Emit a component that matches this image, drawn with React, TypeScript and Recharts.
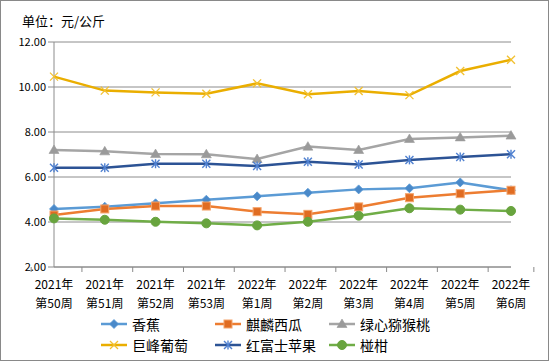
import React from "react";
import { LineChart, Line, XAxis, YAxis, CartesianGrid, Legend } from "recharts";

const categories = [
  "2021年\n第50周", "2021年\n第51周", "2021年\n第52周", "2021年\n第53周", "2022年\n第1周",
  "2022年\n第2周", "2022年\n第3周", "2022年\n第4周", "2022年\n第5周", "2022年\n第6周",
];
const banana = [4.58, 4.68, 4.83, 4.99, 5.14, 5.30, 5.45, 5.50, 5.76, 5.41];
const watermelon = [4.31, 4.58, 4.71, 4.71, 4.46, 4.34, 4.67, 5.08, 5.26, 5.41];
const kiwi = [7.2, 7.14, 7.02, 7.01, 6.8, 7.35, 7.2, 7.69, 7.76, 7.84];
const grape = [10.46, 9.84, 9.76, 9.7, 10.16, 9.68, 9.82, 9.64, 10.71, 11.21];
const apple = [6.41, 6.41, 6.59, 6.59, 6.49, 6.68, 6.56, 6.76, 6.89, 7.01];
const citrus = [4.16, 4.1, 4.01, 3.94, 3.85, 4.01, 4.28, 4.61, 4.55, 4.49];
const yTicks = [2, 4, 6, 8, 10, 12];
const unitLabel = "单位：元/公斤";

const data = categories.map((c, i) => ({
  name: c,
  banana: banana[i],
  watermelon: watermelon[i],
  kiwi: kiwi[i],
  grape: grape[i],
  apple: apple[i],
  citrus: citrus[i],
}));

type Shape = "diamond" | "square" | "triangle" | "x" | "star" | "circle";

const series: { key: string; name: string; color: string; marker: string; shape: Shape }[] = [
  { key: "banana", name: "香蕉", color: "#5B9BD5", marker: "#4A89C9", shape: "diamond" },
  { key: "watermelon", name: "麒麟西瓜", color: "#ED7D31", marker: "#E06C22", shape: "square" },
  { key: "kiwi", name: "绿心猕猴桃", color: "#A5A5A5", marker: "#9A9A9A", shape: "triangle" },
  { key: "grape", name: "巨峰葡萄", color: "#EAAE00", marker: "#F2C030", shape: "x" },
  { key: "apple", name: "红富士苹果", color: "#2C5395", marker: "#4F80D0", shape: "star" },
  { key: "citrus", name: "椪柑", color: "#70AD47", marker: "#68A43E", shape: "circle" },
];

const FONT = "'Noto Sans CJK SC', 'DejaVu Sans', sans-serif";

function MarkerShape({ shape, cx, cy, color, line }: { shape: Shape; cx: number; cy: number; color: string; line: string }) {
  switch (shape) {
    case "diamond":
      return <polygon points={`${cx},${cy - 4.5} ${cx + 4.5},${cy} ${cx},${cy + 4.5} ${cx - 4.5},${cy}`} fill={color} stroke={line} strokeWidth={0.8} />;
    case "square":
      return <rect x={cx - 4} y={cy - 4} width={8} height={8} fill={color} stroke="#F4A46C" strokeWidth={1} />;
    case "triangle":
      return <polygon points={`${cx},${cy - 5} ${cx + 5},${cy + 3.5} ${cx - 5},${cy + 3.5}`} fill={color} stroke={color} strokeWidth={0.6} />;
    case "x":
      return (
        <g stroke={color} strokeWidth={1.3}>
          <line x1={cx - 4} y1={cy - 4} x2={cx + 4} y2={cy + 4} />
          <line x1={cx - 4} y1={cy + 4} x2={cx + 4} y2={cy - 4} />
        </g>
      );
    case "star":
      return (
        <g stroke={color} strokeWidth={1.4}>
          <line x1={cx - 4} y1={cy - 4} x2={cx + 4} y2={cy + 4} />
          <line x1={cx - 4} y1={cy + 4} x2={cx + 4} y2={cy - 4} />
          <line x1={cx} y1={cy - 4.5} x2={cx} y2={cy + 4.5} />
        </g>
      );
    case "circle":
    default:
      return <circle cx={cx} cy={cy} r={4.5} fill={color} stroke={color} />;
  }
}

const makeDot = (s: typeof series[number]) => (props: any) => {
  const { cx, cy, index } = props;
  if (cx == null || cy == null) return <g key={index} />;
  return (
    <g key={`${s.key}-${index}`}>
      <MarkerShape shape={s.shape} cx={cx} cy={cy} color={s.marker} line={s.color} />
    </g>
  );
};

const HALF_BAND = 22.85;

const XTick = (props: any) => {
  const { x, y, payload, index } = props;
  const lines = String(payload.value).split("\n");
  return (
    <g>
      <line x1={x - HALF_BAND} y1={y - 8} x2={x - HALF_BAND} y2={y - 3} stroke="#898989" />
      {index === categories.length - 1 && (
        <line x1={x + HALF_BAND} y1={y - 8} x2={x + HALF_BAND} y2={y - 3} stroke="#898989" />
      )}
      <text x={x} y={y + 14} textAnchor="middle" fontSize={12} fontFamily={FONT} fill="#000">
        {lines.map((l, i) => (
          <tspan key={i} x={x} dy={i === 0 ? 0 : 19}>
            {l}
          </tspan>
        ))}
      </text>
    </g>
  );
};

const LegendContent = () => {
  const cols = [100, 214, 328];
  return (
    <div style={{ position: "relative", width: 549, height: 49 }}>
      {series.map((s, i) => {
        const col = i % 3;
        const row = Math.floor(i / 3);
        return (
          <div
            key={s.key}
            style={{
              position: "absolute",
              left: cols[col],
              top: 2 + row * 21,
              display: "flex",
              alignItems: "center",
              height: 20,
              fontFamily: FONT,
              fontSize: 14,
              color: "#000",
              whiteSpace: "nowrap",
            }}
          >
            <svg width={28} height={12} style={{ marginRight: 4 }}>
              <line x1={1} y1={6} x2={27} y2={6} stroke={s.color} strokeWidth={2.5} />
              <MarkerShape shape={s.shape} cx={14} cy={6} color={s.marker} line={s.color} />
            </svg>
            <span>{s.name}</span>
          </div>
        );
      })}
    </div>
  );
};

export default function App() {
  return (
    <div
      style={{
        position: "fixed",
        left: 0,
        top: 0,
        width: 549,
        height: 361,
        background: "#fff",
      }}
    >
      <div
        style={{
          position: "absolute",
          left: 0,
          top: 0,
          width: 549,
          height: 361,
          boxSizing: "border-box",
          border: "1px solid #898989",
          pointerEvents: "none",
          zIndex: 2,
        }}
      />
      <div
        style={{
          position: "absolute",
          left: 22,
          top: 11,
          fontFamily: FONT,
          fontSize: 13,
          color: "#000",
          zIndex: 1,
        }}
      >
        {unitLabel}
      </div>
      <LineChart
        width={549}
        height={361}
        data={data}
        margin={{ top: 42, right: 38, left: 0, bottom: 0 }}
      >
        <CartesianGrid horizontal vertical={false} stroke="#8C8C8C" strokeWidth={1} />
        <XAxis
          dataKey="name"
          height={45}
          interval={0}
          axisLine={{ stroke: "#8C8C8C" }}
          tickLine={false}
          tick={<XTick />}
        />
        <YAxis
          width={54}
          domain={[2, 12]}
          ticks={yTicks}
          interval={0}
          axisLine={{ stroke: "#8C8C8C" }}
          tickLine={{ stroke: "#8C8C8C" }}
          tickSize={6}
          tick={{ fontSize: 11, fontFamily: FONT, fill: "#000" }}
          tickFormatter={(v: number) => v.toFixed(2)}
        />
        <Legend verticalAlign="bottom" height={49} content={<LegendContent />} />
        {series.map((s) => (
          <Line
            key={s.key}
            type="linear"
            dataKey={s.key}
            name={s.name}
            stroke={s.color}
            strokeWidth={2.5}
            dot={makeDot(s)}
            activeDot={false}
            isAnimationActive={false}
          />
        ))}
      </LineChart>
    </div>
  );
}
